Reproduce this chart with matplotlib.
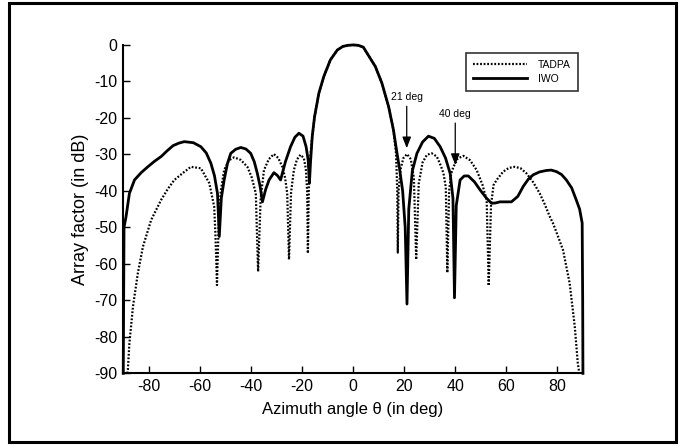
import matplotlib
matplotlib.use("Agg")
import matplotlib.pyplot as plt
from matplotlib.patches import Rectangle

plt.rcParams['font.family'] = ['Liberation Sans', 'DejaVu Sans']
plt.rcParams['axes.unicode_minus'] = False

# values (angle in deg, array factor in dB)
iwo_theta = [-90, -89.7, -88.9, -87.6, -85.6, -83, -80.4, -77.8, -75.2, -72.8, -70.5, -68.2,
             -66.1, -62.5, -59.6, -57.5, -55.7, -54.3, -53.1, -52.4, -51.6, -50.5, -49.2, -47.9,
             -46, -44, -42, -40.1, -38.7, -37.5, -36.4, -35.5, -34.2, -32.9, -31, -29.6, -28.4,
             -26.5, -24.5, -22.8, -21.2, -19.6, -18.4, -17.6, -17.1, -16.7, -16, -15.1, -13.4,
             -11.5, -8.9, -6.2, -4, -2, 0, 2, 4, 5.5, 8.7, 11.3, 13.9, 15.8, 17.2, 18.2, 19.4,
             20.4, 21.1, 21.8, 23.2, 25, 27.2, 29.5, 31.8, 34.1, 36.2, 38, 39.1, 39.7, 40.4,
             41.9, 43.5, 45.1, 47.5, 49.7, 52, 54.2, 55.8, 57.5, 62, 64.5, 66.6, 68.6, 70.5, 73,
             75.7, 77.6, 79.6, 81.6, 83.5, 85.6, 87.4, 88.7, 89.7, 89.9, 90]
iwo_db = [-90, -50, -47, -40.7, -37, -35, -33.4, -31.9, -30.6, -29, -27.6, -26.9,
          -26.5, -26.8, -27.9, -29.6, -32.4, -35.8, -40.7, -52.5, -42, -37, -32.5, -29.7,
          -28.6, -28.1, -28.5, -29.7, -32, -35.2, -38.8, -43, -39.5, -37, -35, -35.8, -37,
          -32, -27.9, -25.3, -24.2, -25, -27.9, -31.5, -37.9, -32.4, -25.1, -19.7, -13.2,
          -8.7, -4.1, -1.4, -0.4, -0.1, 0, -0.1, -0.6, -2.3, -5.9, -10.5, -16.9, -23.3, -29.7,
          -34, -40, -50, -71, -45, -34.5, -29.7, -26.6, -25, -25.6, -27.9, -31, -35.2, -42,
          -69.3, -44, -37, -35.9, -35.9, -37.5, -39.7, -41.8, -43.4, -43.3, -43, -43, -41.5,
          -38.8, -36.8, -35.6, -34.8, -34.4, -34.3, -34.7, -35.5, -37, -39.2, -42.5, -45,
          -48.8, -70, -90]

tadpa_theta = [-88.4, -88.2, -87.6, -86.2, -84.3, -82.3, -79.1, -75.2, -72.6, -70, -66.5,
               -63.5, -59.6, -56.3, -54.4, -53.9, -53.3, -52.6, -51.8, -50.5, -48.6, -46.6,
               -44, -41.4, -39.7, -38.1, -37.2, -36.2, -34.9, -33, -31, -29.3, -27.7, -26.6,
               -25.8, -25.1, -24.3, -23.2, -22, -20.6, -19.3, -18.5, -18, -17.7, -17.3, -16.7,
               -16, -15.1, -13.4, -11.5, -8.9, -6.2, -4, -2, 0, 2, 4, 5.5, 8.7, 11.3, 13.9,
               15.8, 16.8, 17.3, 17.5, 17.8, 18.6, 19.7, 21.1, 22.6, 23.8, 24.7, 25.7, 27.2,
               28.9, 30.8, 32.8, 34.4, 35.4, 36.3, 36.9, 37.6, 38.4, 39.3, 41, 43.2, 45.8, 48.4,
               50.6, 52.3, 53.1, 54, 55, 56.2, 58.8, 61, 63.3, 65.6, 67.9, 70.5, 73.1, 75, 77,
               78.3, 80.2, 82.2, 84.8, 86.8, 88, 88.6]
tadpa_db = [-90, -89, -81.8, -71.7, -62.6, -55.3, -48, -42.5, -39.5, -37, -35, -33.4,
            -33.8, -37.9, -44.3, -52, -65.8, -48, -40, -34.3, -31.6, -30.8, -31.5, -33.4,
            -36.3, -40.7, -62.1, -42, -34.3, -31.3, -29.9, -31, -33.4, -36.5, -40.7, -58.8,
            -40.5, -34.3, -31.4, -30.1, -31, -34, -40, -57.1, -38, -30, -25.1, -19.7, -13.2,
            -8.7, -4.1, -1.4, -0.4, -0.1, 0, -0.1, -0.6, -2.3, -5.9, -10.5, -16.9, -23.3, -29.7,
            -40, -56.9, -40, -34, -31, -29.9, -31.3, -36.5, -58.8, -38, -32.2, -30.1, -29.7,
            -30.6, -33.2, -35.2, -39, -62.4, -40, -35.3, -33.4, -31.1, -30.4, -31.6, -34.3,
            -38.2, -42.5, -66, -44, -38.4, -37, -34.7, -33.7, -33.4, -33.8, -35.2, -37.6, -40.7,
            -43.6, -47, -48.9, -52.4, -56.2, -65.3, -77.2, -87.3, -90]

series_names = ['TADPA', 'IWO']
notes = ['21 deg', '40 deg']
note_theta = [21, 40]
note_tip = [-28.3, -32.9]
note_text_y = [-14.3, -18.9]

fig = plt.figure(figsize=(6.81, 4.45), dpi=100)
ax = fig.add_axes([0.181, 0.161, 0.675, 0.738])

ax.plot(tadpa_theta, tadpa_db, color='k', linestyle=(0, (0.8, 0.8)), linewidth=1.6,
        label=series_names[0], clip_on=False)
ax.plot(iwo_theta, iwo_db, color='k', linestyle='-', linewidth=2.0, label=series_names[1],
        clip_on=False)

ax.set_xlim(-90, 90)
ax.set_ylim(-90, 0)
ax.set_xticks(range(-80, 81, 20))
ax.set_yticks(range(-90, 1, 10))
ax.spines['top'].set_visible(False)
ax.spines['right'].set_visible(False)
ax.spines['left'].set_linewidth(1.5)
ax.spines['bottom'].set_linewidth(1.5)
ax.tick_params(direction='in', length=5, width=1, labelsize=11.5, pad=4)
ax.set_xlabel('Azimuth angle θ (in deg)', fontsize=12, labelpad=6)
ax.set_ylabel('Array factor (in dB)', fontsize=13, labelpad=4)

for txt, th, tip, ty in zip(notes, note_theta, note_tip, note_text_y):
    ax.annotate(txt, xy=(th, tip), xytext=(th, ty), ha='center', va='center', fontsize=7.5,
                arrowprops=dict(arrowstyle='-|>,head_length=0.9,head_width=0.35', color='k',
                                lw=0.9, shrinkA=1, shrinkB=0))

leg = ax.legend(loc='upper left', bbox_to_anchor=(0.745, 0.976), fontsize=7.5, frameon=True,
                fancybox=False, edgecolor='k', handlelength=5.2, handletextpad=1.0,
                borderpad=0.7, labelspacing=0.35, borderaxespad=0)
leg.get_frame().set_linewidth(1.2)

fig.patches.append(Rectangle((9 / 681, 3 / 445), 667 / 681, 439 / 445, transform=fig.transFigure,
                             fill=False, edgecolor='k', linewidth=2.2))

fig.savefig('out.png', dpi=100)
